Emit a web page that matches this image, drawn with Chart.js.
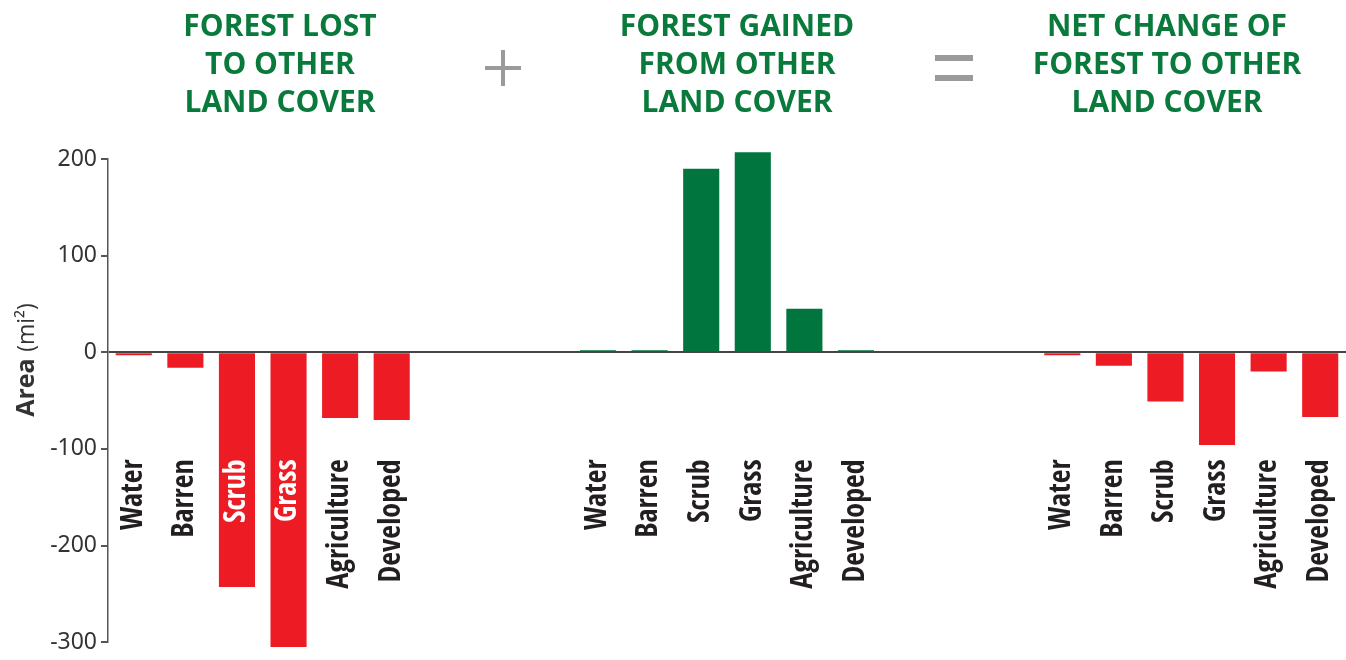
<html>
<head>
<title>Forest change by land cover</title>
<style>
html, body {
  margin:0px;
  background:#fff;
}
</style>
<script src="https://cdn.jsdelivr.net/npm/chart.js@4.4.1/dist/chart.umd.min.js"></script>
</head>
<body>
<div style="position: relative; width:1346px; height:660px;">
<canvas id="myChart"></canvas>
</div>
<script>
// land cover classes, repeated in each of the three panels
const landCover = ['Water', 'Barren', 'Scrub', 'Grass', 'Agriculture', 'Developed'];
const forestLost = [-3, -16, -243, -305, -68, -70];   // mi2
const forestGained = [2, 2, 190, 207, 45, 2];         // mi2
const netChange = [-3, -14, -51, -96, -20, -67];      // mi2
const yTicks = [200, 100, 0, -100, -200, -300];
const panelTitles = [
  ['FOREST LOST', 'TO OTHER', 'LAND COVER'],
  ['FOREST GAINED', 'FROM OTHER', 'LAND COVER'],
  ['NET CHANGE OF', 'FOREST TO OTHER', 'LAND COVER']
];

const RED = '#ED1C24';
const GREEN = '#00763E';
const TITLE_GREEN = '#0A7A3C';
const CONDENSED = '"Open Sans Condensed", "Roboto Condensed", sans-serif';
const SANS = '"Open Sans", "Noto Sans", sans-serif';

// three blank slots between the panels
const gap = ['', '', ''];
const labels = landCover.concat(gap, landCover, gap, landCover);
const values = forestLost.concat([null, null, null], forestGained, [null, null, null], netChange);
// labels sitting on top of the tall red bars are white
const labelColors = labels.map((l, i) => (i === 2 || i === 3) ? '#fff' : '#231F20');

const headerPlugin = {
  id: 'header',
  afterDraw(chart) {
    const ctx = chart.ctx;
    ctx.save();
    // panel titles
    ctx.fillStyle = TITLE_GREEN;
    ctx.font = 'bold 30px ' + SANS;
    ctx.textAlign = 'center';
    ctx.textBaseline = 'middle';
    const centers = [280, 737, 1167];
    panelTitles.forEach((lines, p) => {
      lines.forEach((line, k) => {
        ctx.fillText(line, centers[p], 27 + k * 38);
      });
    });
    // + and = signs
    ctx.strokeStyle = '#9A9A9C';
    ctx.lineWidth = 4;
    ctx.beginPath();
    ctx.moveTo(485, 68); ctx.lineTo(521, 68);
    ctx.moveTo(503, 50); ctx.lineTo(503, 86);
    ctx.stroke();
    ctx.fillStyle = '#9A9A9C';
    ctx.fillRect(935, 55, 38, 6);
    ctx.fillRect(935, 75, 38, 6);
    // y axis title: bold "Area" + regular "(mi²)"
    ctx.translate(27, 360);
    ctx.rotate(-Math.PI / 2);
    ctx.fillStyle = '#333';
    ctx.textBaseline = 'middle';
    ctx.textAlign = 'left';
    const fa = 'bold 25px ' + SANS;
    const fb = '23px ' + SANS;
    const a = 'Area ';
    const b = '(mi\u00B2)';
    ctx.font = fa;
    const wa = ctx.measureText(a).width;
    ctx.font = fb;
    const wb = ctx.measureText(b).width;
    const x0 = -(wa + wb) / 2;
    ctx.font = fa;
    ctx.fillText(a, x0, 0);
    ctx.font = fb;
    ctx.fillText(b, x0 + wa, 0);
    ctx.restore();
  }
};

const ctx = document.getElementById('myChart');
const myChart = new Chart(ctx, {
  type: 'bar',
  data: {
    labels: labels,
    datasets: [{
      data: values,
      backgroundColor: values.map(v => v > 0 ? GREEN : RED),
      barPercentage: 0.7,
      categoryPercentage: 1.0,
      clip: false
    }]
  },
  options: {
    responsive: true,
    maintainAspectRatio: false,
    animation: false,
    layout: { padding: { top: 159, bottom: 17, left: 0, right: 0 } },
    plugins: {
      legend: { display: false },
      tooltip: { enabled: false }
    },
    scales: {
      x: {
        position: { y: 0 },
        afterFit(scale) { scale.paddingLeft = 0; scale.paddingRight = 0; },
        grid: { display: false },
        border: { display: false },
        ticks: {
          z: 1, // labels drawn over the bars
          autoSkip: false,
          minRotation: 90,
          maxRotation: 90,
          padding: 99,
          color: labelColors,
          font: { family: CONDENSED, size: 30, weight: 'bold' }
        }
      },
      y: {
        min: -300,
        max: 200,
        afterFit(scale) { scale.width = 108; },
        afterBuildTicks(scale) { scale.ticks = yTicks.map(v => ({ value: v })); },
        border: { display: true, color: '#555', width: 1.5 },
        grid: {
          drawOnChartArea: true,
          color: c => (c.tick && c.tick.value === 0) ? '#444' : 'rgba(0,0,0,0)',
          lineWidth: 2,
          tickColor: '#555',
          tickLength: 7
        },
        ticks: {
          padding: 4,
          color: '#333',
          font: { family: '"Noto Sans", sans-serif', size: 23 }
        }
      }
    }
  },
  plugins: [headerPlugin]
});
</script>
</body>
</html>
